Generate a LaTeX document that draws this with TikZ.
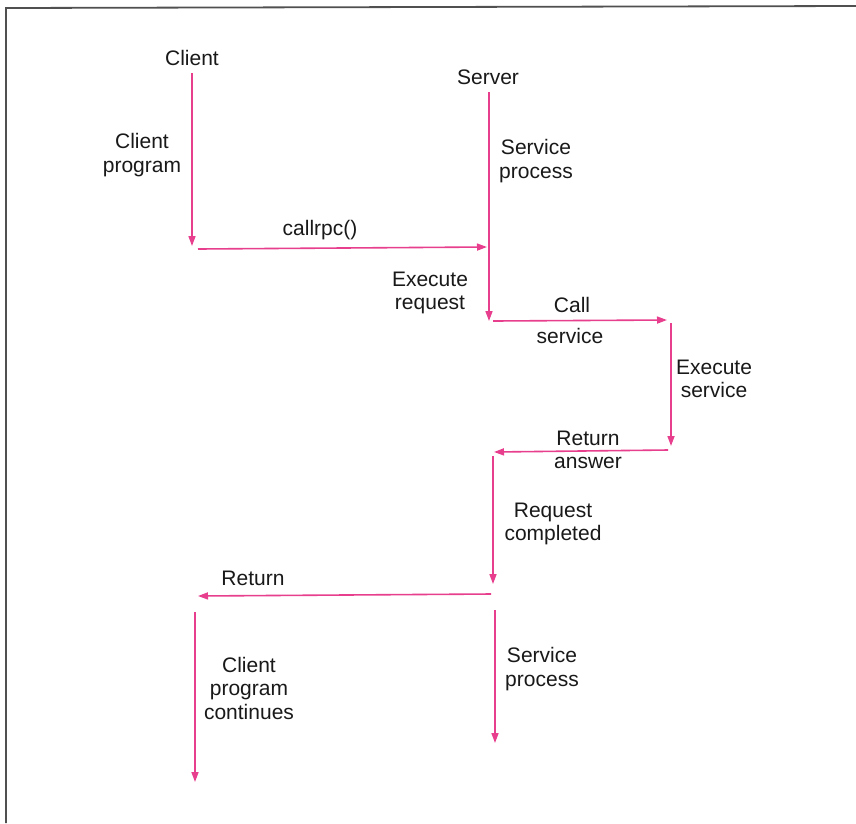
\documentclass[tikz,border=0pt]{standalone}
\usepackage{fontspec}
\setmainfont{Liberation Sans}
\usetikzlibrary{arrows.meta}
\definecolor{flow}{RGB}{232,62,142}
\definecolor{frame}{RGB}{80,80,80}
\tikzset{
  lbl/.style={font=\fontsize{21}{23.5}\selectfont, align=center, inner sep=0pt, text=black!90},
  flowarrow/.style={draw=flow, line width=1.6pt, -{Triangle[length=10pt,width=7pt]}},
}
\begin{document}
\begin{tikzpicture}[x=1pt,y=-1pt]
  \useasboundingbox (0,0) rectangle (856,823);
  \fill[white] (0,0) rectangle (856,823);
  % open frame: left and top edges
  \draw[frame, line width=1.8pt] (6,823) -- (6,8) -- (856,6);

  % lane headings
  \node[lbl] (client) at (192,58) {Client};
  \node[lbl] (server) at (488,77) {Server};

  % arrow end points
  \coordinate (c1a) at (192,73);
  \coordinate (c1b) at (192,246);
  \coordinate (r1a) at (198,249);
  \coordinate (r1b) at (487,247);
  \coordinate (s1a) at (489,92);
  \coordinate (s1b) at (489,321);
  \coordinate (cs_a) at (493,321);
  \coordinate (cs_b) at (667,320);
  \coordinate (es_a) at (671,323);
  \coordinate (es_b) at (671,446);
  \coordinate (ra_a) at (668,450);
  \coordinate (ra_b) at (494,452);
  \coordinate (rc_a) at (493,456);
  \coordinate (rc_b) at (493,584);
  \coordinate (rt_a) at (491,594);
  \coordinate (rt_b) at (198,596);
  \coordinate (cc_a) at (195,612);
  \coordinate (cc_b) at (195,782);
  \coordinate (sp_a) at (495,610);
  \coordinate (sp_b) at (495,743);

  % connectors
  \draw[flowarrow] (c1a) -- (c1b);
  \draw[flowarrow] (r1a) -- (r1b);
  \draw[flowarrow] (s1a) -- (s1b);
  \draw[flowarrow] (cs_a) -- (cs_b);
  \draw[flowarrow] (es_a) -- (es_b);
  \draw[flowarrow] (ra_a) -- (ra_b);
  \draw[flowarrow] (rc_a) -- (rc_b);
  \draw[flowarrow] (rt_a) -- (rt_b);
  \draw[flowarrow] (cc_a) -- (cc_b);
  \draw[flowarrow] (sp_a) -- (sp_b);

  % labels
  \node[lbl] (lcp) at (142,155) {Client\\program};
  \node[lbl] (lrpc) at (320,230) {callrpc()};
  \node[lbl] (lsp1) at (536,161) {Service\\process};
  \node[lbl] (ler) at (430,293) {Execute\\request};
  \node[lbl] (lcall) at (572,305) {Call};
  \node[lbl] (lserv) at (570,336) {service};
  \node[lbl] (les) at (714,379) {Execute\\service};
  \node[lbl] (lra) at (588,450) {Return\\answer};
  \node[lbl] (lrc) at (553,524) {Request\\completed};
  \node[lbl] (lret) at (253,578) {Return};
  \node[lbl] (lcc) at (249,688) {Client\\program\\continues};
  \node[lbl] (lsp2) at (542,669) {Service\\process};
\end{tikzpicture}
\end{document}
